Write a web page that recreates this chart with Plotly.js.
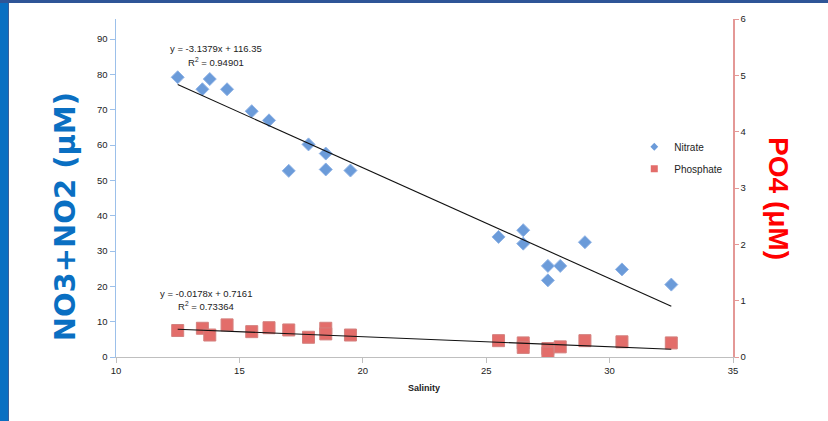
<!DOCTYPE html>
<html>
<head>
<meta charset="utf-8">
<script src="https://cdn.plot.ly/plotly-3.0.1.min.js"></script>
<style>
  html, body { margin: 0; padding: 0; background: #ffffff; }
  #wrap { position: relative; width: 828px; height: 421px; overflow: hidden; }
  #chart { position: absolute; left: 0; top: 0; width: 828px; height: 421px; }
  #bl { position: absolute; left: 0; top: 0; width: 8px; height: 421px; background: #0a6fc2; border-right: 1px solid #3a5e9a; z-index: 5; }
  #bt { position: absolute; left: 0; top: 0; width: 828px; height: 3px; background: #2f5597; z-index: 6; }
</style>
</head>
<body>
<div id="wrap">
  <div id="chart"></div>
  <div id="bl"></div>
  <div id="bt"></div>
</div>
<script>
// ---- data ----
const salinity = [12.5, 13.5, 13.8, 14.5, 15.5, 16.2, 17, 17.8, 18.5, 18.5, 19.5,
                  25.5, 26.5, 26.5, 27.5, 27.5, 28, 29, 30.5, 32.5];
const nitrate = [79.2, 75.8, 78.7, 75.8, 69.6, 67.0, 52.7, 60.2, 57.6, 53.1, 52.8,
                 34.0, 35.9, 32.1, 25.8, 21.7, 25.8, 32.5, 24.8, 20.5];
const phosphate = [0.47, 0.51, 0.39, 0.57, 0.45, 0.52, 0.48, 0.35, 0.51, 0.41, 0.39,
                   0.29, 0.25, 0.17, 0.15, 0.07, 0.18, 0.29, 0.27, 0.25];
const seriesNames = ["Nitrate", "Phosphate"];
const trendSlope = [-3.1379, -0.0178];
const trendIntercept = [116.35, 0.7161];
const trendR2 = ["0.94901", "0.73364"];
const xTicks = [10, 15, 20, 25, 30, 35];
const yTicks = [0, 10, 20, 30, 40, 50, 60, 70, 80, 90];
const y2Ticks = [0, 1, 2, 3, 4, 5, 6];

// trendline endpoints from the fitted equations
const xMin = Math.min(...salinity), xMax = Math.max(...salinity);
const trendX = [xMin, xMax];
const trendN = trendX.map(x => trendSlope[0] * x + trendIntercept[0]);
const trendP = trendX.map(x => trendSlope[1] * x + trendIntercept[1]);

function eqText(i) {
  const s = trendSlope[i] < 0 ? "-" + Math.abs(trendSlope[i]) : String(trendSlope[i]);
  return "y = " + s + "x + " + trendIntercept[i];
}

const blue = "#6b9bd9", red = "#e36d6a";

const traces = [
  { x: salinity, y: nitrate, type: "scatter", mode: "markers", name: seriesNames[0],
    showlegend: false, yaxis: "y",
    marker: { symbol: "diamond", size: 10, color: blue, line: { color: "#8fb3e6", width: 1 } } },
  { x: salinity, y: phosphate, type: "scatter", mode: "markers", name: seriesNames[1],
    showlegend: false, yaxis: "y2",
    marker: { symbol: "square", size: 12, color: red, line: { color: "#d4807e", width: 1 } } },
  { x: trendX, y: trendN, type: "scatter", mode: "lines", showlegend: false, yaxis: "y",
    line: { color: "#111111", width: 1.1 }, hoverinfo: "skip" },
  { x: trendX, y: trendP, type: "scatter", mode: "lines", showlegend: false, yaxis: "y2",
    line: { color: "#111111", width: 1.1 }, hoverinfo: "skip" },
  // legend entries (small symbols as in the reference)
  { x: [null], y: [null], type: "scatter", mode: "markers", name: seriesNames[0], legendgroup: "a",
    marker: { symbol: "diamond", size: 6, color: blue } },
  { x: [null], y: [null], type: "scatter", mode: "markers", name: seriesNames[1], legendgroup: "b",
    yaxis: "y2", marker: { symbol: "square", size: 7, color: red } }
];

const tickFont = { family: "Liberation Sans, Arial, sans-serif", size: 9.5, color: "#222222" };
const eqFont = { family: "Liberation Sans, Arial, sans-serif", size: 9.5, color: "#222222" };

const layout = {
  width: 828, height: 421,
  margin: { l: 116, r: 95, t: 19, b: 64 },
  paper_bgcolor: "#ffffff", plot_bgcolor: "#ffffff",
  showlegend: true,
  legend: { x: 0.840, xanchor: "left", y: 0.665, yanchor: "top",
            font: { family: "Liberation Sans, Arial, sans-serif", size: 10, color: "#222222" },
            bgcolor: "rgba(0,0,0,0)", tracegroupgap: 3, traceorder: "grouped" },
  xaxis: { range: [10, 35], tickvals: xTicks, showgrid: false, zeroline: false,
           showline: true, linecolor: "#bfbfbf", linewidth: 1,
           ticks: "outside", ticklen: 5, tickcolor: "#bfbfbf", tickfont: tickFont },
  yaxis: { range: [0, 95.7], tickvals: yTicks, showgrid: false, zeroline: false,
           showline: true, linecolor: "#9cc0ea", linewidth: 1.5,
           ticks: "outside", ticklen: 5, tickcolor: "#9cc0ea", tickfont: tickFont },
  yaxis2: { range: [0, 6], tickvals: y2Ticks, overlaying: "y", side: "right",
            showgrid: false, zeroline: false, showline: true, linecolor: "#e49896", linewidth: 1.5,
            ticks: "outside", ticklen: 4, tickcolor: "#e49896", tickfont: tickFont },
  annotations: [
    { xref: "x", yref: "y", x: 14.05, y: 87.3, text: eqText(0), showarrow: false, font: eqFont },
    { xref: "x", yref: "y", x: 14.07, y: 83.6, text: "R<sup>2</sup> = " + trendR2[0], showarrow: false, font: eqFont },
    { xref: "x", yref: "y", x: 13.63, y: 18.0, text: eqText(1), showarrow: false, font: eqFont },
    { xref: "x", yref: "y", x: 13.63, y: 14.3, text: "R<sup>2</sup> = " + trendR2[1], showarrow: false, font: eqFont },
    { xref: "paper", yref: "paper", x: 0.499, y: -0.113, text: "<b>Salinity</b>", showarrow: false,
      font: { family: "Liberation Sans, Arial, sans-serif", size: 9, color: "#222222" } },
    { xref: "paper", yref: "paper", x: -0.113, y: 0.414, text: "<b>NO3+NO2 (μM)</b>", showarrow: false,
      textangle: -90, font: { family: "DejaVu Sans, sans-serif", size: 29, color: "#0a6fc2" } },
    { xref: "paper", yref: "paper", x: 1.103, y: 0.470, text: "<b>PO4 (μM)</b>", showarrow: false,
      textangle: 90, font: { family: "Liberation Sans, Arial, sans-serif", size: 28, color: "#ff0000" } }
  ]
};

Plotly.newPlot("chart", traces, layout, { displayModeBar: false, staticPlot: true });
</script>
</body>
</html>
